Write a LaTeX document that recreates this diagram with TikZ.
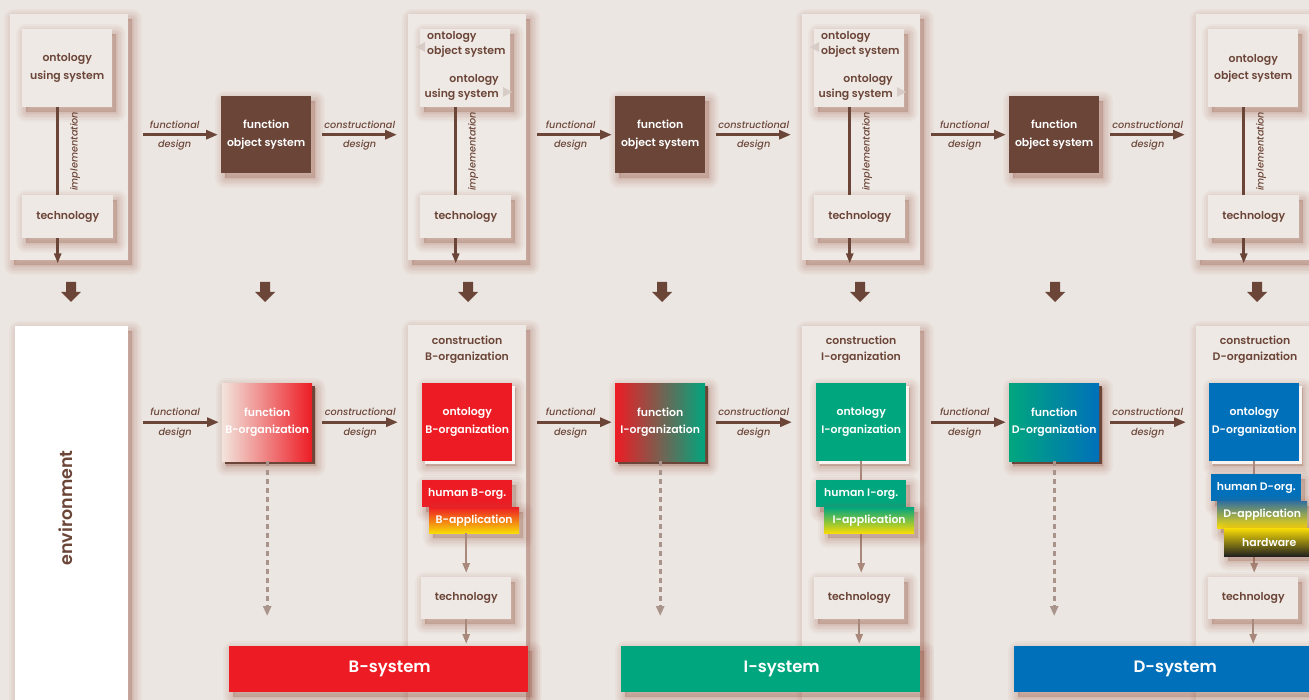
\documentclass[tikz,border=0pt]{standalone}
\usepackage{fontspec}
\setmainfont{Poppins SemiBold}[ItalicFont={Poppins Medium Italic}]
\usetikzlibrary{arrows.meta,shadows}
\definecolor{bgc}{HTML}{ECE6E2}
\definecolor{panelc}{HTML}{EFE9E5}
\definecolor{brownc}{HTML}{6B4638}
\definecolor{lightarr}{HTML}{A8897C}
\definecolor{dashc}{HTML}{A8948B}
\definecolor{tric}{HTML}{D8CCC6}
\definecolor{shadc}{HTML}{A0604E}
\definecolor{redc}{HTML}{ED1C24}
\definecolor{greenc}{HTML}{00A67E}
\definecolor{bluec}{HTML}{0070BA}
\definecolor{yellowc}{HTML}{F8DC06}
\definecolor{orangec}{HTML}{F28A1E}
\definecolor{peachc}{HTML}{F2E4DC}
\definecolor{steelc}{HTML}{33709E}
\definecolor{hwdark}{HTML}{202020}
\definecolor{lightoff}{HTML}{F8F4F2}
\tikzset{
  sl/.style={general shadow={fill=shadc, draw=shadc, line join=round, opacity=0.05, line width=#1, shadow xshift=4pt, shadow yshift=-5pt}},
  softshadow/.style={sl=20pt, sl=16pt, sl=12pt, sl=9pt, sl=6pt, sl=3pt, sl=0.5pt},
  panel/.style={fill=panelc, draw=none, anchor=north west, inner sep=0, minimum width=118pt, softshadow},
  box/.style={fill=panelc, draw=none, anchor=north west, inner sep=0, minimum width=90pt, text=brownc, align=center, font=\fontsize{10.9}{17.5}\selectfont, softshadow},
  darkbox/.style={box, fill=brownc, text=white},
  colbox/.style={box, text=white},
  darkoff/.style={general shadow={fill=brownc, shadow xshift=3pt, shadow yshift=-3pt}},
  lightoffs/.style={general shadow={fill=lightoff, shadow xshift=3pt, shadow yshift=-3pt}},
  bar/.style={draw=none, anchor=north west, inner sep=0, minimum height=46pt, text=white, font=\fontsize{16.5}{20}\selectfont, softshadow},
  arr/.style={draw=brownc, line width=3pt, -{Triangle[length=12pt,width=9pt]}},
  implline/.style={draw=brownc, line width=3pt},
  implarr/.style={draw=brownc, line width=2.5pt, -{Triangle[length=10pt,width=7pt]}},
  larr/.style={draw=lightarr, line width=2.5pt, -{Triangle[length=10pt,width=7pt]}},
  dasharr/.style={draw=dashc, line width=3pt, dash pattern=on 5pt off 4pt, -{Triangle[length=10pt,width=8pt]}},
  lab/.style={text=brownc, font=\fontsize{9.7}{10}\selectfont\itshape, inner sep=1pt},
  vlab/.style={lab, rotate=90, anchor=north, inner sep=11pt},
  hdr/.style={text=brownc, align=center, font=\fontsize{10.9}{16}\selectfont},
  txt/.style={text=brownc, font=\fontsize{10.9}{15}\selectfont, inner sep=0},
}
\begin{document}
\begin{tikzpicture}[x=1pt,y=-1pt]
\clip (0,0) rectangle (1309,700);
\fill[bgc] (0,0) rectangle (1309,700);

% ---------------- top row panels
\node[panel, minimum height=246pt] (P1) at (10,14) {};
\node[panel, minimum height=246pt] (P2) at (408,14) {};
\node[panel, minimum height=246pt] (P3) at (802,14) {};
\node[panel, minimum height=246pt, minimum width=130pt] (P4) at (1196,14) {};

\node[box, minimum height=78pt] (U1) at (22,29) {ontology\\using system};
\node[box, minimum height=78pt] (U2) at (420,29) {};
\node[box, minimum height=78pt] (U3) at (814,29) {};
\node[box, minimum height=78pt] (U4) at (1208,29) {ontology\\object system};

\node[txt, anchor=west, align=left] (U2a) at (427,44.5) {ontology\\object system};
\node[txt, anchor=east, align=right] (U2b) at (499,87.5) {ontology\\using system};
\node[txt, anchor=west, align=left] (U3a) at (821,44.5) {ontology\\object system};
\node[txt, anchor=east, align=right] (U3b) at (893,87.5) {ontology\\using system};
\fill[tric] (416,47) -- (425,42) -- (425,52) -- cycle;
\fill[tric] (512,92) -- (503,87) -- (503,97) -- cycle;
\fill[tric] (810,47) -- (819,42) -- (819,52) -- cycle;
\fill[tric] (906,92) -- (897,87) -- (897,97) -- cycle;

\node[box, minimum height=43pt, minimum width=91pt] (T1) at (22,195) {technology};
\node[box, minimum height=43pt, minimum width=91pt] (T2) at (420,195) {technology};
\node[box, minimum height=43pt, minimum width=91pt] (T3) at (814,195) {technology};
\node[box, minimum height=43pt, minimum width=91pt] (T4) at (1208,195) {technology};

\foreach \i in {1,2,3,4}{
  \draw[implline] ([xshift=-9.5pt]U\i.south) -- ([xshift=-10pt]T\i.north)
     node[vlab, midway] (IL\i) {implementation};
  \coordinate (E\i) at ([xshift=-10pt,yshift=-25pt]T\i.south);
  \draw[implarr] ([xshift=-10pt]T\i.south) -- (E\i);
}

% function object system
\node[darkbox, minimum height=77pt] (F1) at (221,96) {function\\object system};
\node[darkbox, minimum height=77pt] (F2) at (615,96) {function\\object system};
\node[darkbox, minimum height=77pt] (F3) at (1009,96) {function\\object system};

\draw[arr, shorten <=15pt, shorten >=3pt] (P1.east |- F1.west) -- (F1.west)
  node[lab, midway, above=4pt] (fd1a) {functional} node[lab, midway, below=3pt] (fd1b) {design};
\draw[arr, shorten <=11pt, shorten >=11pt] (F1.east) -- (F1.east -| P2.west)
  node[lab, midway, above=4pt] (cd1a) {constructional} node[lab, midway, below=3pt] (cd1b) {design};
\draw[arr, shorten <=11pt, shorten >=3pt] (P2.east |- F2.west) -- (F2.west)
  node[lab, midway, above=4pt] (fd2a) {functional} node[lab, midway, below=3pt] (fd2b) {design};
\draw[arr, shorten <=11pt, shorten >=11pt] (F2.east) -- (F2.east -| P3.west)
  node[lab, midway, above=4pt] (cd2a) {constructional} node[lab, midway, below=3pt] (cd2b) {design};
\draw[arr, shorten <=11pt, shorten >=3pt] (P3.east |- F3.west) -- (F3.west)
  node[lab, midway, above=4pt] (fd3a) {functional} node[lab, midway, below=3pt] (fd3b) {design};
\draw[arr, shorten <=11pt, shorten >=11pt] (F3.east) -- (F3.east -| P4.west)
  node[lab, midway, above=4pt] (cd3a) {constructional} node[lab, midway, below=3pt] (cd3b) {design};

% block arrows
\foreach \n/\x in {1/71,2/265,3/468,4/662,5/860,6/1055,7/1257}{
  \coordinate (BA\n) at (\x,282);
  \fill[brownc] (BA\n) ++(-5,0) -- ++(10,0) -- ++(0,10) -- ++(5,0) -- ++(-10,10) -- ++(-10,-10) -- ++(5,0) -- cycle;
}

% ---------------- bottom row
\node[panel, fill=white, minimum width=113pt, minimum height=400pt] (Env) at (15,326) {};
\node[rotate=90, text=brownc, font=\fontsize{17.5}{20}\selectfont] (EnvT) at (66,508) {environment};

\node[panel, minimum height=400pt] (CB) at (408,325) {};
\node[panel, minimum height=400pt] (CI) at (802,326) {};
\node[panel, minimum height=400pt, minimum width=130pt] (CD) at (1196,326) {};
\node[hdr] (CBt) at (467,350) {construction\\B-organization};
\node[hdr] (CIt) at (861,350) {construction\\I-organization};
\node[hdr] (CDt) at (1255,350) {construction\\D-organization};

% B
\node[colbox, minimum height=78pt, left color=peachc, right color=redc, darkoff] (FB) at (222,383) {function\\B-organization};
\node[colbox, minimum height=78pt, fill=redc, lightoffs] (OB) at (422,383) {ontology\\B-organization};
\node[colbox, minimum height=27pt, fill=redc] (HB) at (422,480) {human B-org.};
\node[colbox, minimum height=26pt, top color=redc, middle color=orangec, bottom color=yellowc] (AB) at (429,507) {B-application};
\node[box, minimum height=42pt] (TB) at (421,577) {technology};
\node[bar, fill=redc, minimum width=299pt] (BS) at (229,646) {\hspace*{22pt}B-system};

% I
\node[colbox, minimum height=78pt, left color=redc, right color=greenc, darkoff] (FI) at (615,383) {function\\I-organization};
\node[colbox, minimum height=78pt, fill=greenc, lightoffs] (OI) at (816,383) {ontology\\I-organization};
\draw[larr, shorten >=4pt] (OI.south) -- (OI.south |- 0,577);
\node[colbox, minimum height=27pt, fill=greenc] (HI) at (816,480) {human I-org.};
\node[colbox, minimum height=26pt, top color=greenc, bottom color=yellowc] (AI) at (824,507) {I-application};
\node[box, minimum height=42pt] (TI) at (814,577) {technology};
\node[bar, fill=greenc, minimum width=299pt] (IS) at (621,646) {\hspace*{22pt}I-system};

% D
\node[colbox, minimum height=78pt, left color=greenc, right color=bluec, darkoff] (FD) at (1009,383) {function\\D-organization};
\node[colbox, minimum height=78pt, fill=bluec, lightoffs] (OD) at (1209,383) {ontology\\D-organization};
\draw[larr, shorten >=4pt] (OD.south) -- (OD.south |- 0,577);
\node[colbox, minimum height=27pt, fill=bluec] (HD) at (1211,474) {human D-org.};
\node[colbox, minimum height=27pt, top color=steelc, bottom color=yellowc] (AD) at (1217,501) {D-application};
\node[colbox, minimum height=28pt, top color=yellowc, bottom color=hwdark] (HW) at (1224,528) {hardware};
\node[box, minimum height=42pt] (TD) at (1208,577) {technology};
\node[bar, fill=bluec, minimum width=300pt] (DS) at (1014,646) {\hspace*{22pt}D-system};

% B arrow
\draw[larr, shorten >=4pt] (AB.south -| TB.north) -- (TB.north);
% tech -> systems
\draw[larr, shorten >=2pt] (TB.south) -- (TB.south |- BS.north);
\draw[larr, shorten >=2pt] (TI.south) -- (TI.south |- IS.north);
\draw[larr, shorten >=2pt] (TD.south) -- (TD.south |- DS.north);

% bottom functional/constructional arrows
\draw[arr, shorten <=15pt, shorten >=3pt] (Env.east |- FB.west) -- (FB.west)
  node[lab, midway, above=4pt] (bfd1a) {functional} node[lab, midway, below=3pt] (bfd1b) {design};
\draw[arr, shorten <=10pt, shorten >=10pt] (FB.east) -- (FB.east -| CB.west)
  node[lab, midway, above=4pt] (bcd1a) {constructional} node[lab, midway, below=3pt] (bcd1b) {design};
\draw[arr, shorten <=11pt, shorten >=3pt] (CB.east |- FI.west) -- (FI.west)
  node[lab, midway, above=4pt] (bfd2a) {functional} node[lab, midway, below=3pt] (bfd2b) {design};
\draw[arr, shorten <=11pt, shorten >=10pt] (FI.east) -- (FI.east -| CI.west)
  node[lab, midway, above=4pt] (bcd2a) {constructional} node[lab, midway, below=3pt] (bcd2b) {design};
\draw[arr, shorten <=11pt, shorten >=3pt] (CI.east |- FD.west) -- (FD.west)
  node[lab, midway, above=4pt] (bfd3a) {functional} node[lab, midway, below=3pt] (bfd3b) {design};
\draw[arr, shorten <=11pt, shorten >=10pt] (FD.east) -- (FD.east -| CD.west)
  node[lab, midway, above=4pt] (bcd3a) {constructional} node[lab, midway, below=3pt] (bcd3b) {design};

% dashed arrows
\coordinate (dB) at (FB.south |- 0,616);
\coordinate (dI) at (FI.south |- 0,616);
\coordinate (dD) at (FD.south |- 0,616);
\draw[dasharr] (FB.south) -- (dB);
\draw[dasharr] (FI.south) -- (dI);
\draw[dasharr] (FD.south) -- (dD);
\end{tikzpicture}
\end{document}
